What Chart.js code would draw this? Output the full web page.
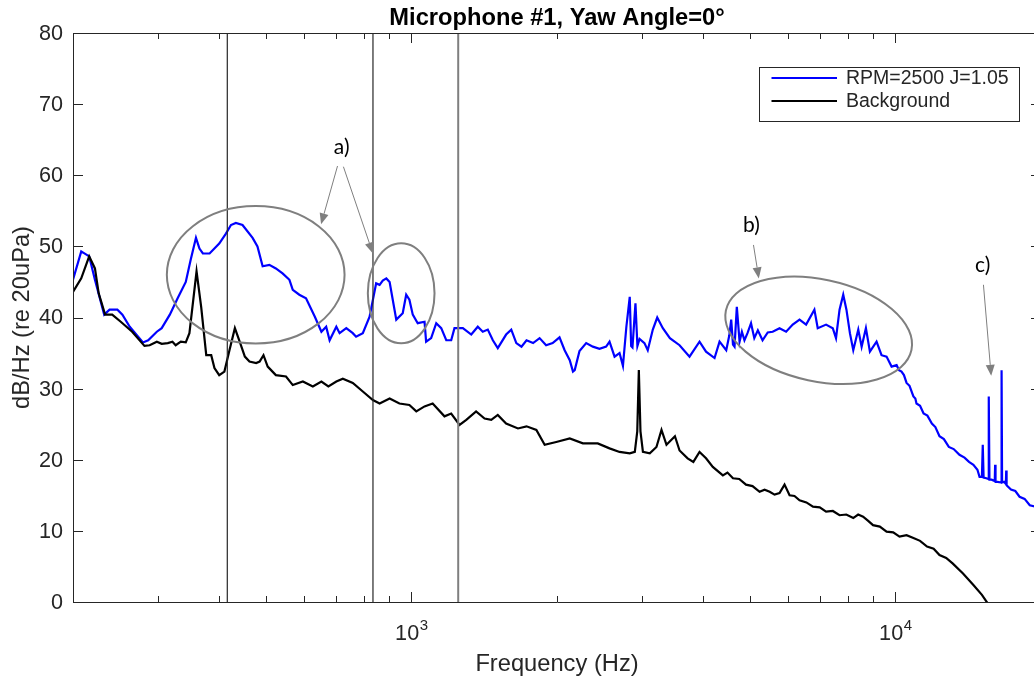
<!DOCTYPE html>
<html><head><meta charset="utf-8">
<script src="https://cdn.jsdelivr.net/npm/chart.js@4.4.0/dist/chart.umd.min.js"></script>
<style>
html,body{margin:0;padding:0;background:#fff;overflow:hidden;width:1034px;height:677px}
#wrap{position:absolute;left:0;top:0;width:1050px;height:677px}
</style></head>
<body><div id="wrap"><canvas id="c" width="1050" height="677"></canvas></div>
<script>
// ---------- DATA ----------
const blueFreq = [200,208,216,222,232,238,247,253,262,279,286,298,305,317,329,342,350,359,365,371,383,401,414,424,434,448,470,481,493,509,525,542,560,569,587,606,632,652,667,678,700,711,734,757,769,794,820,846,860,873,888,902,931,960,976,991,1007,1031,1065,1073,1099,1126,1153,1181,1209,1228,1278,1330,1372,1405,1439,1474,1509,1570,1609,1648,1689,1730,1785,1841,1899,1959,2024,2074,2125,2158,2176,2226,2298,2372,2448,2527,2568,2630,2693,2737,2782,2827,2846,2864,2905,2932,2962,3032,3080,3155,3222,3309,3422,3583,3757,3940,4064,4232,4334,4474,4540,4581,4620,4654,4705,4767,4820,4879,4950,5034,5113,5200,5318,5450,5580,5765,5949,6138,6341,6542,6805,6914,7194,7427,7542,7670,7806,7926,8058,8188,8385,8520,8695,8862,9147,9366,9593,9825,10063,10180,10300,10420,10550,10700,10900,11000,11060,11250,11440,11650,11900,12100,12340,12600,12900,13200,13570,13900,14200,14500,14780,14930,15100,15160,15220,15420,15560,15600,15650,15810,16050,16080,16110,16270,16540,16580,16620,16770,16920,16950,16980,17340,17700,18060,18500,18960,19500,20000];
const blueDb = [45.3,49.3,48.6,45.3,40.4,41.1,41.1,40.4,38.7,36.5,36.8,38.0,38.5,40.4,42.7,45.0,48.1,51.2,49.7,49.0,49.0,50.4,51.8,53.0,53.3,53.0,51.2,50.0,47.2,47.4,46.9,46.2,45.3,43.9,43.2,42.7,40.1,38.0,38.7,36.8,38.7,37.8,38.5,37.8,37.3,37.8,40.1,44.8,44.6,45.2,45.5,45.0,39.7,40.6,43.2,42.5,40.4,39.2,39.4,36.6,37.1,39.2,38.5,36.8,36.8,38.5,38.5,37.6,38.7,38.0,38.3,36.8,35.7,37.6,38.3,36.4,35.9,36.8,36.4,37.1,36.1,36.4,37.2,35.4,34.0,32.4,32.6,35.3,36.4,35.9,35.6,35.9,36.6,34.5,35.0,33.2,38.7,42.9,36.0,35.8,42.0,36.0,37.0,36.4,35.4,38.3,40.0,38.5,37.1,36.1,34.5,36.6,35.2,34.3,36.6,35.4,37.5,39.7,36.2,35.9,41.5,36.6,38.0,36.8,37.8,39.2,37.1,38.2,36.8,37.9,38.0,38.5,38.0,39.0,39.7,39.0,41.1,38.5,39.0,38.5,37.1,41.1,43.2,41.1,37.8,35.4,38.3,35.9,38.5,35.2,36.6,34.7,34.5,33.1,33.3,32.6,32.4,31.9,30.8,30.4,28.9,28.6,27.9,27.6,26.5,26.2,25.1,24.6,23.3,22.9,21.8,21.5,20.7,20.3,19.7,19.3,18.6,17.6,17.6,22.1,17.5,17.4,17.3,28.9,17.2,17.2,17.0,19.3,16.9,16.9,16.8,32.6,16.8,16.9,16.6,18.5,16.4,15.8,15.6,14.8,14.5,13.6,13.4,12.9];

const bgFreq = [200,208,216,222,226,233,241,251,265,281,288,298,305,314,321,326,334,342,348,360,368,377,386,392,401,411,421,432,442,453,463,478,486,495,505,525,551,569,597,626,652,674,700,722,757,794,833,860,902,945,991,1024,1065,1107,1171,1209,1258,1299,1361,1417,1463,1509,1570,1661,1730,1813,1886,1993,2125,2262,2428,2568,2693,2827,2896,2930,2952,2975,3010,3110,3210,3288,3367,3505,3583,3723,3826,3940,4064,4197,4403,4500,4620,4760,4915,5070,5243,5370,5501,5630,5765,5904,6047,6190,6341,6550,6760,6980,7194,7430,7670,7920,8188,8380,8580,8790,8995,9290,9593,9900,10202,10550,10900,11250,11630,12000,12340,12740,13150,13800,14500,15100,15420,16000];
const bgDb = [43.6,45.5,48.6,46.9,43.4,40.4,40.4,39.4,38.0,36.0,36.1,36.6,36.3,36.4,36.6,36.1,36.6,36.5,37.8,46.5,41.5,34.7,34.7,32.9,31.9,32.4,35.4,38.5,36.6,34.5,33.8,33.6,33.8,34.7,33.1,31.9,31.7,30.5,31.0,30.3,31.0,30.3,31.0,31.4,30.8,29.6,28.4,27.9,28.6,27.9,27.7,26.8,27.5,27.9,26.1,26.5,24.9,25.6,26.8,25.8,25.6,26.3,25.1,24.4,24.7,24.2,22.1,22.5,23.0,22.3,22.3,21.6,21.1,20.9,21.1,24.0,32.6,24.0,21.1,20.9,21.8,24.2,22.1,23.3,21.3,20.2,19.7,21.1,20.2,19.0,17.8,18.2,17.4,17.3,16.5,16.3,15.5,15.8,15.5,15.1,15.3,16.5,15.0,14.9,14.3,14.0,13.4,13.3,12.7,12.8,12.2,12.3,11.8,12.3,12.0,11.4,10.8,10.6,9.9,9.8,9.2,9.4,9.0,8.6,7.8,7.5,6.6,6.2,5.4,4.0,2.4,1.0,0.1,-1.5];

const harmonicFreqs = [416.7, 833.3, 1250];
const xMajorTicks = [1000, 10000];
const xMajorExp = ['3', '4'];
const xMinorTicks = [300,400,500,600,700,800,900,2000,3000,4000,5000,6000,7000,8000,9000,20000];
const yTicks = [0,10,20,30,40,50,60,70,80];
const seriesNames = ['RPM=2500 J=1.05', 'Background'];

// annotation definitions in data units (freq Hz, dB)
const ellipses = [
  {f: 477, db: 46.0, halfDec: 0.1836, halfDb: 9.66, rot: 0},
  {f: 953, db: 43.4, halfDec: 0.0689, halfDb: 7.03, rot: 0},
  {f: 6945, db: 38.2, halfDec: 0.196, halfDb: 7.17, rot: 12}
];
const arrows = [
  {f0: 704, d0: 61.3, f1: 651, d1: 53.1},
  {f0: 724, d0: 61.2, f1: 833, d1: 49.0},
  {f0: 5093, d0: 50.2, f1: 5224, d1: 45.5},
  {f0: 15210, d0: 44.6, f1: 15780, d1: 31.8}
];
const notes = [
  {t: 'a)', f: 718, db: 63.9},
  {t: 'b)', f: 5045, db: 53.0},
  {t: 'c)', f: 15160, db: 47.4}
];

// ---------- CHART ----------
const AX = '#262626';
const FONT = '"Liberation Sans", Arial, Helvetica, sans-serif';

const toXY = (fs, ds) => fs.map((f, i) => ({x: f, y: ds[i]}));

const vlineSets = harmonicFreqs.map((f, i) => ({
  data: [{x: f, y: 0}, {x: f, y: 80}],
  borderColor: i < 2 ? '#262626' : '#7f7f7f',
  borderWidth: i < 2 ? 1.2 : 2,
  pointRadius: 0, fill: false
}));

const deco = {
  id: 'deco',
  afterDraw(chart) {
    const {ctx, chartArea: a, scales: {x, y}} = chart;
    ctx.save();
    // axes box
    ctx.strokeStyle = AX; ctx.lineWidth = 1;
    ctx.beginPath();
    ctx.rect(Math.round(a.left) + 0.5, Math.round(a.top) + 0.5, Math.round(a.right - a.left), Math.round(a.bottom - a.top));
    ctx.stroke();
    // ticks
    ctx.beginPath();
    yTicks.forEach(v => {
      const py = Math.round(y.getPixelForValue(v)) + 0.5;
      ctx.moveTo(a.left, py); ctx.lineTo(a.left + 10, py);
      ctx.moveTo(a.right, py); ctx.lineTo(a.right - 10, py);
    });
    xMajorTicks.forEach(v => {
      const px = Math.round(x.getPixelForValue(v)) + 0.5;
      ctx.moveTo(px, a.bottom); ctx.lineTo(px, a.bottom - 10);
      ctx.moveTo(px, a.top); ctx.lineTo(px, a.top + 10);
    });
    xMinorTicks.forEach(v => {
      const px = Math.round(x.getPixelForValue(v)) + 0.5;
      ctx.moveTo(px, a.bottom); ctx.lineTo(px, a.bottom - 6);
      ctx.moveTo(px, a.top); ctx.lineTo(px, a.top + 6);
    });
    ctx.stroke();
    // y tick labels
    ctx.fillStyle = AX;
    ctx.font = '21.6px ' + FONT;
    ctx.textAlign = 'right'; ctx.textBaseline = 'middle';
    yTicks.forEach(v => ctx.fillText(String(v), a.left - 10, y.getPixelForValue(v) + 1));
    // x tick labels 10^n
    xMajorTicks.forEach((v, i) => {
      const px = x.getPixelForValue(v);
      ctx.font = '21.6px ' + FONT;
      const w1 = ctx.measureText('10').width;
      ctx.font = '15px ' + FONT;
      const w2 = ctx.measureText(xMajorExp[i]).width;
      const x0 = px - (w1 + w2) / 2;
      ctx.textAlign = 'left'; ctx.textBaseline = 'alphabetic';
      ctx.font = '21.6px ' + FONT;
      ctx.fillText('10', x0, 640);
      ctx.font = '15px ' + FONT;
      ctx.fillText(xMajorExp[i], x0 + w1 + 0.5, 630);
    });
    // axis labels
    ctx.font = '23.7px ' + FONT;
    ctx.textAlign = 'center'; ctx.textBaseline = 'alphabetic';
    ctx.fillText('Frequency (Hz)', (a.left + a.right) / 2, 671);
    ctx.save();
    ctx.translate(22, (a.top + a.bottom) / 2);
    ctx.rotate(-Math.PI / 2);
    ctx.textBaseline = 'middle';
    ctx.fillText('dB/Hz (re 20uPa)', 0, 0);
    ctx.restore();
    // title
    ctx.fillStyle = '#000';
    ctx.font = 'bold 23.7px ' + FONT;
    ctx.fillText('Microphone #1, Yaw Angle=0°', (a.left + a.right) / 2, 25);

    // ellipses
    ctx.strokeStyle = '#7f7f7f'; ctx.lineWidth = 2;
    ellipses.forEach(e => {
      const cx = x.getPixelForValue(e.f), cy = y.getPixelForValue(e.db);
      const rx = x.getPixelForValue(e.f * Math.pow(10, e.halfDec)) - cx;
      const ry = y.getPixelForValue(e.db - e.halfDb) - cy;
      ctx.beginPath();
      ctx.ellipse(cx, cy, rx, ry, e.rot * Math.PI / 180, 0, Math.PI * 2);
      ctx.stroke();
    });
    // arrows
    arrows.forEach(r => {
      const x0 = x.getPixelForValue(r.f0), y0 = y.getPixelForValue(r.d0);
      const x1 = x.getPixelForValue(r.f1), y1 = y.getPixelForValue(r.d1);
      const ang = Math.atan2(y1 - y0, x1 - x0);
      const L = 11, W = 4.5;
      const bx = x1 - L * Math.cos(ang), by = y1 - L * Math.sin(ang);
      ctx.strokeStyle = '#7f7f7f'; ctx.lineWidth = 1;
      ctx.beginPath(); ctx.moveTo(x0, y0); ctx.lineTo(bx, by); ctx.stroke();
      ctx.fillStyle = '#7f7f7f';
      ctx.beginPath();
      ctx.moveTo(x1, y1);
      ctx.lineTo(bx + W * Math.sin(ang), by - W * Math.cos(ang));
      ctx.lineTo(bx - W * Math.sin(ang), by + W * Math.cos(ang));
      ctx.closePath(); ctx.fill();
    });
    // notes
    ctx.fillStyle = '#000';
    ctx.font = '21px Lato, "Open Sans", sans-serif';
    ctx.textAlign = 'center'; ctx.textBaseline = 'middle';
    notes.forEach(n => ctx.fillText(n.t, x.getPixelForValue(n.f), y.getPixelForValue(n.db)));

    // legend
    const lx = 759.5, ly = 67.5, lw = 260, lh = 54;
    ctx.fillStyle = '#fff';
    ctx.fillRect(lx, ly, lw, lh);
    ctx.strokeStyle = AX; ctx.lineWidth = 1;
    ctx.strokeRect(lx, ly, lw, lh);
    const rows = [{c: '#0000ff', yy: 78}, {c: '#000000', yy: 101}];
    ctx.font = '19.5px ' + FONT;
    ctx.textAlign = 'left'; ctx.textBaseline = 'middle';
    rows.forEach((r, i) => {
      ctx.strokeStyle = r.c; ctx.lineWidth = 2;
      ctx.beginPath(); ctx.moveTo(771.5, r.yy); ctx.lineTo(837, r.yy); ctx.stroke();
      ctx.fillStyle = AX;
      ctx.fillText(seriesNames[i], 846, r.yy + 1);
    });
    ctx.restore();
  }
};

new Chart(document.getElementById('c'), {
  type: 'line',
  data: {
    datasets: [
      ...vlineSets,
      {label: seriesNames[1], data: toXY(bgFreq, bgDb), borderColor: '#000000', borderWidth: 2.2, pointRadius: 0, fill: false, tension: 0},
      {label: seriesNames[0], data: toXY(blueFreq, blueDb), borderColor: '#0000ff', borderWidth: 2.2, pointRadius: 0, fill: false, tension: 0}
    ]
  },
  options: {
    responsive: false,
    animation: false,
    devicePixelRatio: 1,
    layout: {padding: {left: 73, top: 33, right: 9, bottom: 75}},
    plugins: {legend: {display: false}, tooltip: {enabled: false}, title: {display: false}},
    scales: {
      x: {type: 'logarithmic', min: 200, max: 20000, display: false},
      y: {type: 'linear', min: 0, max: 80, display: false}
    }
  },
  plugins: [deco]
});
</script>
</body></html>
